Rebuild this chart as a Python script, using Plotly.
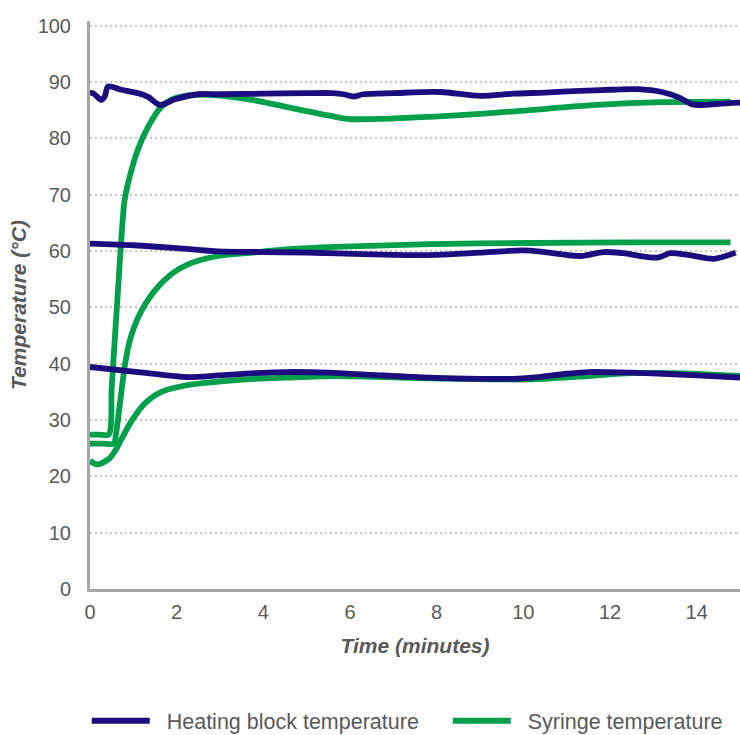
import plotly.graph_objects as go

# ---- data (time in minutes, temperature in °C) ----
hb_high_t = [0, 0.07, 0.26, 0.34, 0.42, 0.72, 1.11, 1.35, 1.61, 1.96, 2.49, 2.95, 4.0, 5.0, 5.6, 5.85, 6.08, 6.3, 7.0, 8.08, 9.0, 9.77, 10.5, 11.3, 12.0, 12.63, 13.2, 13.6, 13.9, 14.15, 14.5, 15.0]
hb_high_v = [88.0, 88.0, 86.8, 87.4, 89.2, 88.6, 88.0, 87.3, 85.9, 86.9, 87.8, 87.8, 87.9, 88.0, 88.0, 87.8, 87.4, 87.8, 88.0, 88.2, 87.5, 87.9, 88.1, 88.4, 88.6, 88.7, 88.2, 87.2, 86.0, 85.9, 86.1, 86.3]

hb_mid_t = [0, 1, 2, 2.96, 4, 5, 5.5, 7, 8, 9, 10.0, 10.5, 11.32, 11.85, 12.3, 13.09, 13.39, 13.8, 14.4, 14.9]
hb_mid_v = [61.3, 61.0, 60.5, 59.9, 59.8, 59.7, 59.6, 59.3, 59.3, 59.7, 60.1, 59.8, 59.1, 59.8, 59.6, 58.8, 59.6, 59.3, 58.6, 59.7]

hb_low_t = [0, 1.11, 2.26, 2.96, 3.8, 4.5, 5.5, 6.5, 7.85, 9.0, 9.77, 10.2, 11.0, 11.5, 12.5, 13.2, 14.0, 15.0]
hb_low_v = [39.4, 38.5, 37.6, 37.9, 38.3, 38.5, 38.4, 38.0, 37.5, 37.3, 37.3, 37.5, 38.2, 38.5, 38.4, 38.2, 37.9, 37.5]

sy_high_t = [0, 0.2, 0.43, 0.5, 0.58, 0.65, 0.72, 0.80, 0.92, 1.11, 1.34, 1.65, 1.96, 2.41, 2.95, 3.74, 4.5, 5.0, 5.66, 6.0, 7.0, 7.85, 9.0, 10.16, 11.7, 13.2, 14.78]
sy_high_v = [27.4, 27.4, 27.4, 35.7, 45.2, 53.5, 61.8, 69.1, 73.3, 78.1, 82.0, 85.6, 87.1, 87.7, 87.6, 86.8, 85.6, 84.8, 83.8, 83.4, 83.5, 83.8, 84.3, 85.0, 85.9, 86.4, 86.5]

sy_mid_t = [0, 0.3, 0.55, 0.6, 0.66, 0.74, 0.82, 0.92, 1.11, 1.49, 1.88, 2.26, 2.96, 3.74, 4.6, 5.66, 7.85, 10.16, 12.5, 14.78]
sy_mid_v = [25.8, 25.8, 25.8, 27.5, 31.0, 36.0, 40.4, 44.1, 48.2, 52.9, 55.9, 57.6, 59.1, 59.7, 60.3, 60.7, 61.2, 61.4, 61.5, 61.5]

sy_low_t = [0, 0.07, 0.18, 0.42, 0.57, 0.72, 0.95, 1.26, 1.65, 2.26, 2.96, 3.6, 4.5, 5.66, 7.85, 10.16, 11.5, 12.5, 13.5, 15.0]
sy_low_v = [22.8, 22.4, 22.1, 23.0, 24.4, 26.5, 29.7, 32.9, 35.0, 36.2, 36.8, 37.2, 37.5, 37.8, 37.4, 37.2, 37.8, 38.3, 38.3, 37.8]

x_ticks = [0, 2, 4, 6, 8, 10, 12, 14]
y_ticks = [0, 10, 20, 30, 40, 50, 60, 70, 80, 90, 100]

BLUE = "#1b0d7e"
GREEN = "#00a04b"
TXT = "#595959"
FONT = "Liberation Sans, Arial, sans-serif"
NB = "\u00a0"

fig = go.Figure()

series = [
    ("Heating block temperature", BLUE, [(hb_high_t, hb_high_v), (hb_mid_t, hb_mid_v), (hb_low_t, hb_low_v)], 1, NB * 4),
    ("Syringe temperature", GREEN, [(sy_high_t, sy_high_v), (sy_mid_t, sy_mid_v), (sy_low_t, sy_low_v)], 2, ""),
]
# draw green first (underneath), blue on top
for name, color, segs, rank, tail in reversed(series):
    for i, (t, v) in enumerate(segs):
        fig.add_trace(go.Scatter(
            x=t, y=v, mode="lines", name=NB * 2 + name + tail,
            line=dict(color=color, width=5.8, shape="spline", smoothing=0.8),
            legendgroup=name, showlegend=(i == 0), legendrank=rank,
        ))

fig.update_layout(
    width=740, height=735,
    margin=dict(l=90, r=0, t=21, b=146, autoexpand=False),
    paper_bgcolor="white", plot_bgcolor="white",
    font=dict(family=FONT, color=TXT, size=20),
    showlegend=True,
    legend=dict(orientation="h", x=-0.005, xanchor="left", y=-0.232, yanchor="middle",
                font=dict(size=21.5, color=TXT), itemwidth=58),
    xaxis=dict(range=[0, 15], tickvals=x_ticks, showgrid=False, zeroline=False,
               showline=True, linecolor="#a6a6a6", linewidth=3,
               ticks="", ticklabelstandoff=3,
               tickfont=dict(size=20, color=TXT),
               title=dict(text="Time (minutes)", standoff=17,
                          font=dict(size=21, color=TXT, weight="bold", style="italic"))),
    yaxis=dict(range=[0, 100.8], tickvals=y_ticks, showgrid=True, gridcolor="#c4c4c4",
               griddash="2px,3px", gridwidth=1.5, zeroline=False,
               showline=True, linecolor="#a6a6a6", linewidth=3,
               ticks="", ticklabelstandoff=12,
               tickfont=dict(size=20, color=TXT),
               title=dict(text="Temperature (°C)", standoff=6,
                          font=dict(size=21, color=TXT, weight="bold", style="italic"))),
)

fig.write_html("out.html", config={"displayModeBar": False},
               post_script="document.body.style.margin='0px';")
